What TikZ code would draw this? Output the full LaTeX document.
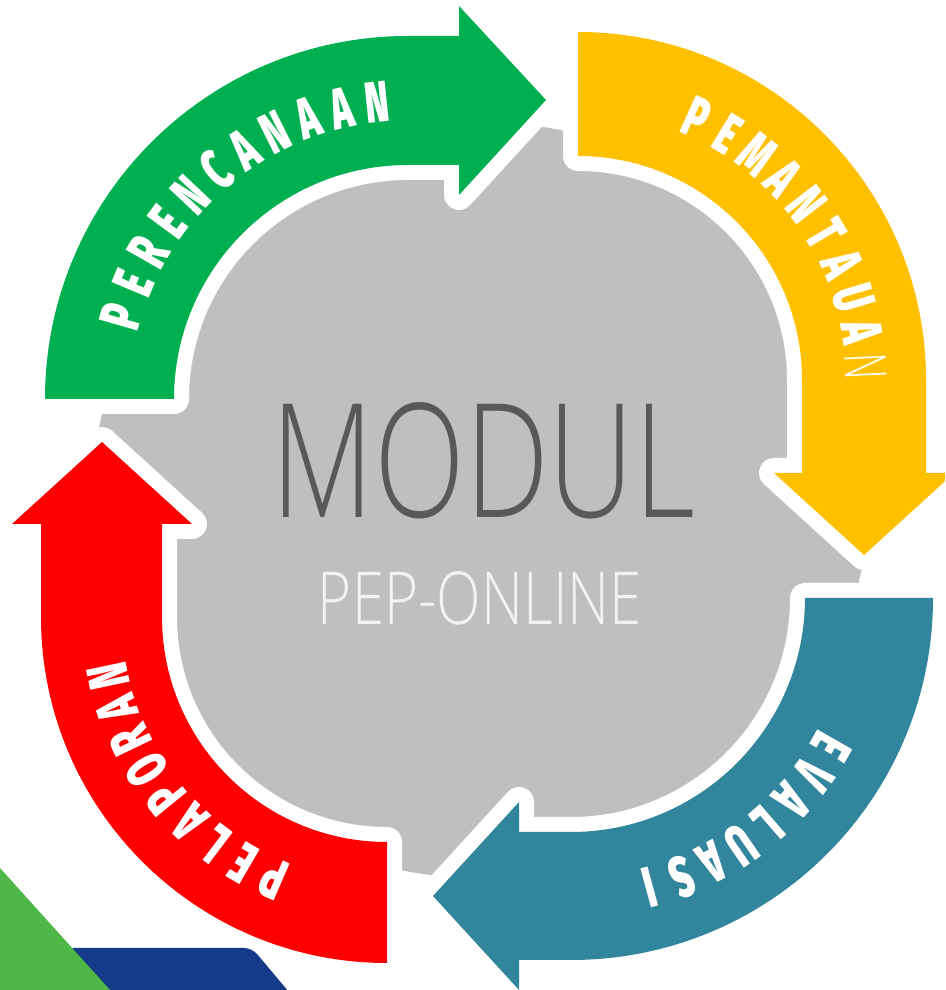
\documentclass[tikz,border=0pt]{standalone}
\usepackage{fontspec}
\IfFontExistsTF{Fira Sans Black}{\newfontfamily\arrfont{Fira Sans Black}}{\newfontfamily\arrfont{Liberation Sans Bold}}
\IfFontExistsTF{Open Sans Light}{\newfontfamily\lightfont{Open Sans Light}}{\newfontfamily\lightfont{Open Sans}}
\definecolor{gcol}{HTML}{00B050}
\definecolor{ycol}{HTML}{FFC000}
\definecolor{tcol}{HTML}{31859C}
\definecolor{rcol}{HTML}{FF0000}
\definecolor{graycol}{HTML}{BFBFBF}
\definecolor{modcol}{HTML}{595959}
\definecolor{pepcol}{HTML}{F2F2F2}
\definecolor{logogreen}{HTML}{4FB748}
\definecolor{logoblue}{HTML}{153A88}
\tikzset{
  outline/.style={draw=white, line width=30pt, line join=round},
  lett/.style={text=white, font={\arrfont\fontsize{58pt}{58pt}\selectfont}, inner sep=0pt, anchor=center},
  thinlett/.style={text=white, font={\lightfont\fontsize{58pt}{58pt}\selectfont}, inner sep=0pt, anchor=center}
}
\def\pathG{(45,591) arc[start angle=180,end angle=90,radius=363pt] -- (459,954) -- (459,984) -- (546,890) -- (459,795) -- (459,825) -- (408,825) arc[start angle=90,end angle=180,radius=234pt] -- cycle}
\def\pathY{(578,958) arc[start angle=90,end angle=0,radius=348pt] -- (926,517) -- (954,517) -- (864,435) -- (774,517) -- (802,517) -- (802,610) arc[start angle=0,end angle=90,radius=224pt] -- cycle}
\def\pathT{(933,392) arc[start angle=0,end angle=-90,radius=362pt] -- (519,30) -- (519,0) -- (433,94) -- (519,188) -- (519,158) -- (571,158) arc[start angle=-90,end angle=0,radius=234pt] -- cycle}
\def\pathR{(387,27) arc[start angle=-90,end angle=-180,radius=346pt] -- (41,466) -- (12,466) -- (102,548) -- (192,466) -- (162,466) -- (162,373) arc[start angle=180,end angle=270,radius=225pt] -- cycle}
\begin{document}
\begin{tikzpicture}[x=1pt,y=1pt]
\useasboundingbox (0,0) rectangle (945,990);
\clip (0,0) rectangle (945,990);
\fill[white] (0,0) rectangle (945,990);
\coordinate (cg) at (408,591);
\coordinate (cy) at (578,610);
\coordinate (ct) at (571,392);
\coordinate (cr) at (387,373);
% central gray disc
\fill[graycol] (480,490) ellipse [x radius=388pt, y radius=378pt];
% white outlines
\path[outline] \pathG;
\path[outline] \pathY;
\path[outline] \pathT;
\path[outline] \pathR;
% arrows
\fill[gcol] \pathG;
\fill[ycol] \pathY;
\fill[tcol] \pathT;
\fill[rcol] \pathR;
% curved labels
\foreach \ch [count=\i] in {P,E,R,E,N,C,A,N,A,A,N}{
  \pgfmathsetmacro\ang{164-(\i-1)*6.8}
  \node[lett, rotate=\ang-90] (gl\i) at ([shift={(\ang:298pt)}]cg) {\scalebox{0.62}[1]{\ch}};
}
\foreach \ch [count=\i] in {P,E,M,A,N,T,A,U,A}{
  \pgfmathsetmacro\ang{65.6-(\i-1)*7}
  \node[lett, rotate=\ang-90] (yl\i) at ([shift={(\ang:288pt)}]cy) {\scalebox{0.62}[1]{\ch}};
}
\node[thinlett, rotate=2.6-90] (yl10) at ([shift={(2.6:288pt)}]cy) {\scalebox{0.62}[1]{N}};
\foreach \ch [count=\i] in {E,V,A,L,U,A,S,I}{
  \pgfmathsetmacro\ang{-29.7-(\i-1)*6.44}
  \node[lett, rotate=\ang-90] (tl\i) at ([shift={(\ang:300pt)}]ct) {\scalebox{0.62}[1]{\ch}};
}
\foreach \ch [count=\i] in {P,E,L,A,P,O,R,A,N}{
  \pgfmathsetmacro\ang{246.6-(\i-1)*6.83}
  \node[lett, rotate=\ang-90] (rl\i) at ([shift={(\ang:285pt)}]cr) {\scalebox{0.62}[1]{\ch}};
}
% centre texts
\node[text=modcol, anchor=base, inner sep=0pt] (modul) at (483.5,472) {\resizebox{423pt}{115pt}{\lightfont MODUL}};
\node[text=pepcol, anchor=base, inner sep=0pt] (pep) at (480,365) {\resizebox{324pt}{53pt}{\lightfont PEP-ONLINE}};
% logo fragment bottom-left
\fill[logoblue, rounded corners=8pt] (40,-20) -- (40,42) -- (252,42) -- (304,-20) -- cycle;
\fill[logogreen] (0,122) -- (110,0) -- (0,0) -- cycle;
\end{tikzpicture}
\end{document}
